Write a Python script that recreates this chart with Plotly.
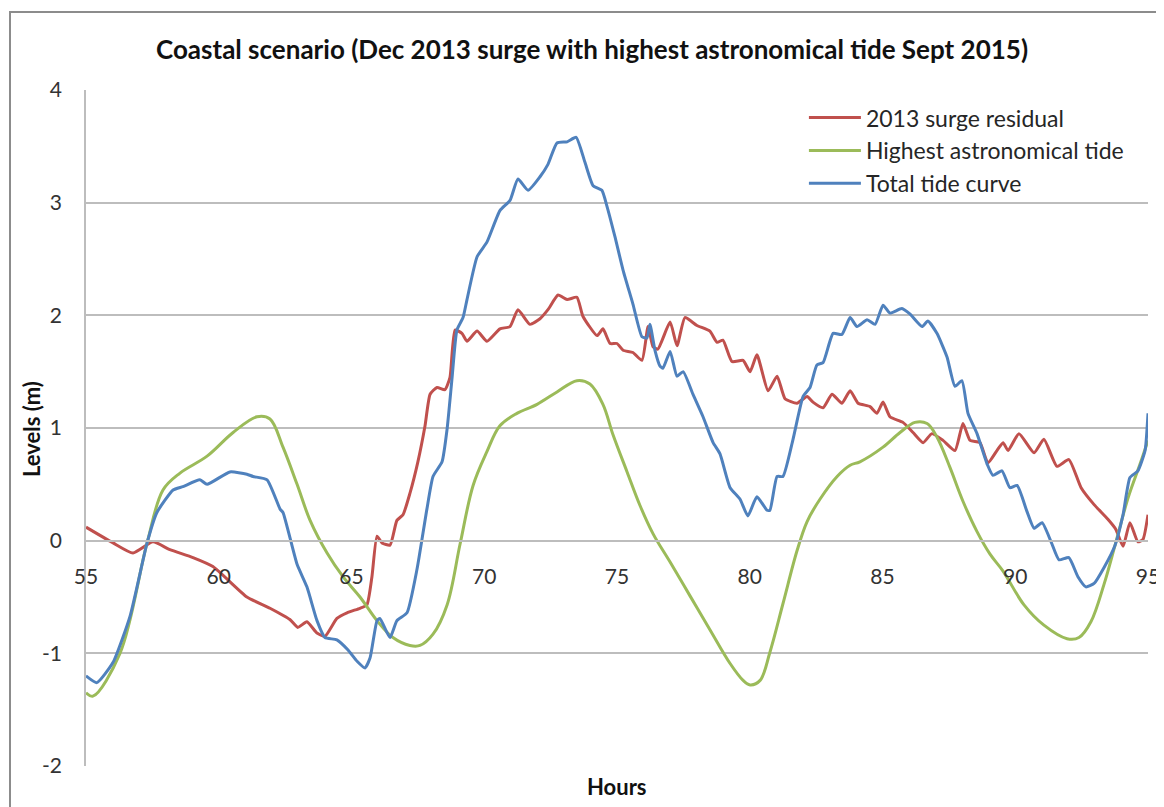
import plotly.graph_objects as go

# values (hours, metres)
surge_hours = [55.0, 56.02, 56.77, 57.52, 58.16, 59.03, 59.78, 61.06, 61.93, 62.68, 62.98,
               63.32, 63.7, 64.0, 64.45, 64.83, 65.32, 65.58, 65.77, 65.96, 66.15, 66.45,
               66.71, 66.94, 67.2, 67.5, 67.77, 67.96, 68.22, 68.52, 68.71, 68.9, 69.16,
               69.35, 69.73, 70.1, 70.59, 70.97, 71.27, 71.72, 72.1, 72.4, 72.78, 73.12,
               73.49, 73.72, 74.25, 74.47, 74.74, 75.0, 75.23, 75.6, 75.94, 76.17, 76.36,
               76.54, 77.0, 77.26, 77.56, 78.01, 78.5, 78.77, 78.99, 79.33, 79.75, 80.01,
               80.27, 80.69, 81.03, 81.33, 81.78, 82.16, 82.38, 82.76, 83.1, 83.47, 83.78,
               84.08, 84.53, 84.79, 85.02, 85.28, 85.77, 86.15, 86.53, 86.86, 87.28, 87.73,
               88.03, 88.3, 88.67, 88.97, 89.31, 89.54, 89.73, 90.14, 90.71, 91.08, 91.57,
               92.02, 92.48, 92.97, 93.49, 93.79, 94.06, 94.32, 94.62, 94.81, 95.0]
surge_levels = [0.12, -0.02, -0.11, -0.01, -0.08, -0.15, -0.23, -0.5, -0.6, -0.7, -0.77,
                -0.72, -0.82, -0.85, -0.69, -0.64, -0.6, -0.57, -0.32, 0.04, -0.02, -0.04,
                0.18, 0.23, 0.42, 0.7, 1.02, 1.3, 1.36, 1.34, 1.45, 1.87, 1.84,
                1.77, 1.86, 1.77, 1.88, 1.9, 2.05, 1.92, 1.97, 2.05, 2.18, 2.14,
                2.16, 1.99, 1.82, 1.88, 1.75, 1.75, 1.69, 1.67, 1.6, 1.9, 1.72,
                1.7, 1.94, 1.73, 1.98, 1.91, 1.86, 1.76, 1.78, 1.59, 1.6, 1.5,
                1.65, 1.33, 1.46, 1.26, 1.22, 1.28, 1.23, 1.18, 1.3, 1.22, 1.33,
                1.22, 1.19, 1.13, 1.23, 1.1, 1.05, 0.96, 0.87, 0.95, 0.89, 0.8,
                1.04, 0.89, 0.87, 0.69, 0.8, 0.87, 0.8, 0.95, 0.78, 0.9, 0.66,
                0.72, 0.47, 0.32, 0.19, 0.1, -0.05, 0.16, -0.01, 0.01, 0.23]

tide_hours = [55.0, 55.26, 56.28, 57.3, 57.9, 58.54, 59.56, 60.54, 61.44, 61.93, 62.42,
              62.95, 63.44, 64.08, 64.68, 65.32, 65.96, 66.56, 67.2, 67.58, 68.07, 68.6,
              69.09, 69.58, 70.1, 70.59, 71.23, 71.99, 72.74, 73.49, 73.98, 74.47, 74.85,
              75.38, 75.87, 76.36, 77.0, 77.75, 78.5, 79.26, 79.75, 80.01, 80.39, 80.76,
              81.25, 81.78, 82.16, 82.65, 83.29, 83.78, 84.15, 85.02, 85.66, 86.22, 86.68,
              87.05, 87.54, 88.03, 88.56, 89.05, 89.54, 90.33, 91.08, 91.95, 92.4, 92.85,
              93.34, 93.76, 94.25, 94.7, 95.0]
tide_levels = [-1.35, -1.38, -1.0, -0.02, 0.45, 0.6, 0.75, 0.96, 1.1, 1.08, 0.83,
               0.5, 0.18, -0.11, -0.32, -0.5, -0.71, -0.86, -0.93, -0.93, -0.83, -0.57,
               -0.03, 0.49, 0.79, 1.02, 1.13, 1.21, 1.32, 1.42, 1.39, 1.21, 0.94,
               0.61, 0.31, 0.06, -0.19, -0.49, -0.79, -1.09, -1.24, -1.28, -1.24, -0.99,
               -0.56, -0.09, 0.17, 0.37, 0.57, 0.67, 0.7, 0.83, 0.96, 1.05, 1.04,
               0.92, 0.65, 0.35, 0.08, -0.12, -0.27, -0.57, -0.75, -0.87, -0.86, -0.72,
               -0.39, -0.04, 0.38, 0.68, 0.89]

total_hours = [55.0, 55.41, 56.02, 56.66, 57.3, 57.67, 58.28, 58.65, 59.29, 59.56, 60.42,
               61.06, 61.29, 61.82, 62.31, 62.42, 62.95, 63.32, 63.7, 64.0, 64.45, 64.87,
               65.21, 65.51, 65.7, 65.96, 66.07, 66.45, 66.71, 67.09, 67.47, 67.84, 68.07,
               68.41, 68.6, 68.79, 68.97, 69.2, 69.35, 69.73, 70.1, 70.59, 70.97, 71.27,
               71.65, 72.1, 72.4, 72.74, 73.12, 73.46, 73.79, 74.1, 74.43, 74.62, 74.92,
               75.23, 75.6, 75.94, 76.13, 76.24, 76.43, 76.62, 76.73, 77.0, 77.26, 77.49,
               77.86, 78.24, 78.62, 78.88, 79.26, 79.63, 79.93, 80.27, 80.65, 80.76, 81.03,
               81.25, 81.63, 82.01, 82.27, 82.53, 82.76, 83.14, 83.47, 83.78, 84.04, 84.42,
               84.72, 85.02, 85.28, 85.73, 86.04, 86.49, 86.71, 87.05, 87.43, 87.73, 87.99,
               88.22, 88.56, 88.94, 89.16, 89.5, 89.8, 90.07, 90.44, 90.71, 91.01, 91.35,
               91.65, 92.02, 92.36, 92.66, 92.97, 93.34, 93.76, 94.06, 94.32, 94.62, 94.89, 95.0]
total_levels = [-1.2, -1.26, -1.08, -0.67, -0.02, 0.25, 0.45, 0.48, 0.54, 0.5, 0.61,
                0.59, 0.57, 0.54, 0.28, 0.25, -0.21, -0.41, -0.71, -0.86, -0.88, -0.97,
                -1.07, -1.13, -1.04, -0.71, -0.69, -0.86, -0.71, -0.64, -0.25, 0.28, 0.57,
                0.7, 0.99, 1.45, 1.87, 1.98, 2.14, 2.52, 2.65, 2.93, 3.02, 3.21,
                3.11, 3.23, 3.34, 3.53, 3.54, 3.58, 3.36, 3.15, 3.11, 2.97, 2.7,
                2.4, 2.1, 1.81, 1.8, 1.92, 1.69, 1.55, 1.53, 1.68, 1.46, 1.5,
                1.3, 1.1, 0.87, 0.77, 0.47, 0.37, 0.22, 0.39, 0.27, 0.27, 0.57,
                0.57, 0.9, 1.28, 1.36, 1.56, 1.58, 1.84, 1.83, 1.98, 1.9, 1.96,
                1.92, 2.09, 2.02, 2.06, 2.01, 1.9, 1.95, 1.84, 1.63, 1.37, 1.42,
                1.13, 0.95, 0.68, 0.58, 0.62, 0.47, 0.49, 0.26, 0.11, 0.16, -0.01,
                -0.17, -0.15, -0.32, -0.41, -0.38, -0.24, -0.04, 0.23, 0.56, 0.62, 0.8, 1.13]

y_ticks = [-2, -1, 0, 1, 2, 3, 4]
y_ticktext = ['-2', '-1', '0', '1', '2', '3', '4']
x_ticks = [55, 60, 65, 70, 75, 80, 85, 90, 95]

grid_col = '#bdbdbd'
font_family = 'Lato, "Open Sans", sans-serif'

fig = go.Figure()
fig.add_trace(go.Scatter(x=surge_hours, y=surge_levels, mode='lines', name='2013 surge residual',
                         line=dict(color='#C0504D', width=3, shape='spline', smoothing=0.5)))
fig.add_trace(go.Scatter(x=tide_hours, y=tide_levels, mode='lines', name='Highest astronomical tide',
                         line=dict(color='#9BBB59', width=3, shape='spline', smoothing=1.0)))
fig.add_trace(go.Scatter(x=total_hours, y=total_levels, mode='lines', name='Total tide curve',
                         line=dict(color='#4F81BD', width=3, shape='spline', smoothing=0.5)))

# page body has an 8px margin, so margins are shifted by 8px
fig.update_layout(
    width=1164, height=807,
    paper_bgcolor='white', plot_bgcolor='white',
    margin=dict(l=78, r=24, t=82, b=49),
    font=dict(family=font_family, color='#222222'),
    title=dict(text='<b>Coastal scenario (Dec 2013 surge with highest astronomical tide Sept 2015)</b>',
               x=(592 - 8) / 1164, xref='container', y=1 - (50 - 8) / 807, yref='container',
               xanchor='center', yanchor='middle',
               font=dict(size=26, color='#111111')),
    showlegend=True,
    legend=dict(x=0.676, y=0.991, xanchor='left', yanchor='top', itemwidth=52,
                bgcolor='rgba(0,0,0,0)', font=dict(size=23, color='#262626'),
                tracegroupgap=0),
)

fig.update_yaxes(range=[-2, 4], tickvals=y_ticks, ticktext=y_ticktext,
                 showgrid=True, gridcolor=grid_col, gridwidth=1.5,
                 zeroline=False, showline=True, linecolor=grid_col, linewidth=1.5,
                 ticks='', ticklabelstandoff=18, tickfont=dict(size=21, color='#333333'))
fig.update_xaxes(range=[55, 95], tickvals=x_ticks, showgrid=False, zeroline=False,
                 anchor='free', position=1 / 3, showline=True, linecolor=grid_col, linewidth=1.5,
                 ticks='', ticklabelstandoff=17, tickfont=dict(size=21, color='#333333'))

# axis titles
fig.add_annotation(text='<b>Hours</b>', x=(617 - 86) / 1062, y=-20 / 676, xref='paper', yref='paper',
                   showarrow=False, xanchor='center', yanchor='middle',
                   font=dict(size=22, color='#111111'))
fig.add_annotation(text='<b>Levels (m)</b>', x=(31 - 86) / 1062, y=(766 - 429) / 676,
                   xref='paper', yref='paper',
                   showarrow=False, textangle=-90, xanchor='center', yanchor='middle',
                   font=dict(size=22, color='#111111'))

# outer chart frame (cropped on right and bottom)
fig.add_shape(type='rect', xref='paper', yref='paper', x0=(10 - 86) / 1062, y0=-0.2, x1=1.2,
              y1=1 + (90 - 12) / 676, line=dict(color='#8c8c8c', width=2), layer='below')

fig.write_html("out.html")
